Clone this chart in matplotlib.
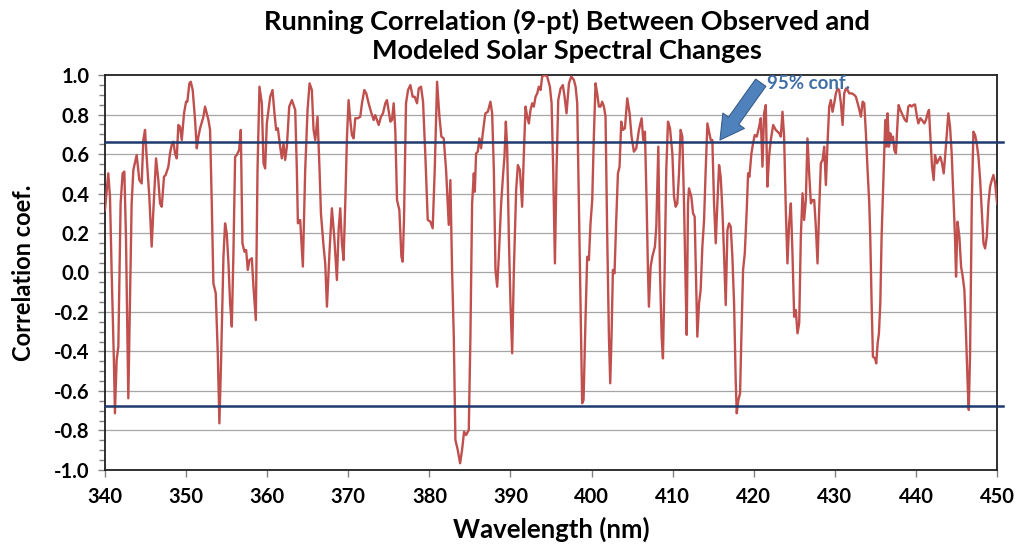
import matplotlib
matplotlib.use('Agg')
import matplotlib.pyplot as plt
from matplotlib.ticker import MultipleLocator
import numpy as np

# wavelength (nm) and 9-pt running correlation
wavelength = [
    340.00, 340.41, 340.62, 340.82, 341.11, 341.23, 341.44, 341.65, 341.93, 342.18,
    342.39, 342.59, 342.88, 343.29, 343.50, 343.91, 344.24, 344.53, 344.73, 344.94,
    345.14, 345.47, 345.76, 345.97, 346.30, 346.58, 346.79, 347.00, 347.28, 347.49,
    347.82, 348.02, 348.23, 348.44, 348.64, 348.85, 349.05, 349.26, 349.47, 349.75,
    350.00, 350.16, 350.41, 350.58, 350.82, 351.11, 351.32, 351.52, 351.73,
    352.14, 352.34, 352.76, 352.96, 353.17, 353.37, 353.66, 353.91, 354.11, 354.32,
    354.61, 354.81, 355.02, 355.23, 355.43, 355.64, 355.84, 356.05, 356.25, 356.54,
    356.75, 356.95, 357.20, 357.41, 357.61, 357.82, 358.11, 358.31, 358.60, 358.81,
    359.05, 359.34, 359.55, 359.75, 359.96, 360.37, 360.66, 360.90, 361.11, 361.32,
    361.60, 361.81, 362.02, 362.22, 362.43, 362.72, 363.05,
    363.46, 363.66, 363.79, 364.07, 364.40, 364.69, 364.98, 365.23, 365.51, 365.72,
    365.93, 366.21, 366.46, 366.63, 366.96, 367.16, 367.37, 367.70, 367.98, 368.27,
    368.60, 368.81, 369.01, 369.22, 369.42, 369.63, 369.84, 370.04, 370.25, 370.45,
    370.66, 370.86, 371.19, 371.48, 371.69, 371.98, 372.22, 372.51, 372.80, 373.13,
    373.33, 373.54, 373.75, 374.03, 374.28, 374.57, 374.77,
    375.19, 375.39, 375.60, 375.80, 376.01, 376.30, 376.55, 376.71, 376.87, 377.12,
    377.37, 377.66, 377.94, 378.19, 378.48, 378.69, 378.97, 379.22, 379.51, 379.80,
    380.13, 380.41, 380.66, 380.95, 381.24, 381.48, 381.77, 382.06, 382.39, 382.59,
    382.80, 383.01, 383.21, 383.50, 383.79, 384.03, 384.28, 384.53, 384.86, 385.06,
    385.27, 385.48, 385.60, 385.76, 385.97, 386.17, 386.38, 386.59, 386.79, 386.91,
    387.21, 387.53, 387.74, 387.95, 388.15, 388.36, 388.56, 388.85, 389.10, 389.26,
    389.43, 389.59, 389.80, 390.00, 390.21, 390.42, 390.70, 390.91, 391.16, 391.44,
    391.65, 391.86, 392.06, 392.27, 392.47, 392.68, 392.88, 393.09, 393.30, 393.50,
    393.71, 393.91, 394.24, 394.53, 394.86, 395.07, 395.27, 395.48, 395.68, 395.89,
    396.18, 396.46, 396.67, 396.91, 397.21, 397.49, 397.82, 398.03, 398.23,
    398.64, 398.84, 399.01, 399.25, 399.46, 399.67, 399.87, 400.08, 400.28, 400.49,
    400.69, 400.90, 401.11, 401.31, 401.52, 401.72, 401.93, 402.14, 402.30, 402.46,
    402.63, 402.83, 403.04, 403.25, 403.45, 403.66, 403.86, 404.11, 404.40, 404.69,
    404.93, 405.22, 405.51, 405.84, 406.17, 406.37, 406.58, 406.79, 406.95, 407.07,
    407.28, 407.49, 407.81, 407.98, 408.23, 408.43, 408.64, 408.80, 409.01, 409.21,
    409.42, 409.67,
    409.96, 410.16, 410.37, 410.57, 410.78, 410.98, 411.19, 411.40, 411.60, 411.73,
    411.89, 412.01, 412.30, 412.51, 412.71, 412.88, 413.04, 413.25, 413.45, 413.66,
    413.87, 414.07, 414.28, 414.52, 414.69, 414.89, 415.10, 415.31, 415.51, 415.72,
    415.92, 416.13, 416.33, 416.54, 416.75, 416.95, 417.16, 417.36, 417.57, 417.77,
    417.90, 418.10, 418.31, 418.47, 418.68, 418.89, 419.13, 419.30, 419.46, 419.71,
    419.91, 420.12, 420.37, 420.66, 420.86, 421.07, 421.27, 421.48, 421.68, 421.89,
    422.10,
    422.39, 422.71, 423.13, 423.33, 423.54, 423.74, 423.95, 424.15, 424.36, 424.57,
    424.77, 424.98, 425.18, 425.39, 425.60, 425.80, 426.01, 426.21, 426.42, 426.62,
    426.83, 427.04, 427.24, 427.45, 427.65, 427.86, 428.06, 428.27, 428.48, 428.68,
    428.89, 429.09, 429.30, 429.50, 429.71, 429.92, 430.12, 430.33, 430.53, 430.74,
    430.95, 431.15, 431.36, 431.56, 431.77, 432.10, 432.39, 432.59, 432.92, 433.21,
    433.42, 433.62,
    433.83, 434.03, 434.24, 434.36, 434.53, 434.69, 434.94, 435.10, 435.27, 435.43,
    435.60, 435.76, 436.01, 436.21, 436.38, 436.50, 436.67, 436.83, 437.00, 437.16,
    437.33, 437.53, 437.74, 437.86, 438.07, 438.35, 438.64, 438.85, 439.05, 439.26,
    439.47, 439.67, 439.88, 440.12, 440.29, 440.54, 440.74, 441.03, 441.23, 441.44,
    441.60, 441.77, 441.98, 442.18, 442.35, 442.59, 442.80, 443.00, 443.21, 443.42,
    443.62, 443.83, 443.99, 444.20, 444.40, 444.61, 444.81, 444.94, 445.12,
    445.35, 445.56, 445.76, 445.97, 446.18, 446.38, 446.51, 446.67, 446.88, 447.08,
    447.29, 447.49, 447.70, 447.91, 448.11, 448.32, 448.52, 448.73, 448.93, 449.14,
    449.35, 449.55, 449.76, 450.00,
]
correlation = [
    0.316, 0.502, 0.384, 0.013, -0.460, -0.713, -0.443, -0.376, 0.350, 0.502,
    0.511, 0.181, -0.637, 0.350, 0.519, 0.595, 0.468, 0.451, 0.671, 0.722,
    0.586, 0.384, 0.131, 0.316, 0.578, 0.468, 0.350, 0.333, 0.485, 0.494,
    0.536, 0.603, 0.646, 0.662, 0.603, 0.578, 0.747, 0.738, 0.671, 0.806,
    0.865, 0.865, 0.958, 0.966, 0.924, 0.772, 0.629, 0.688, 0.730,
    0.789, 0.840, 0.772, 0.722, 0.350, -0.055, -0.105, -0.409, -0.764, -0.443,
    0.080, 0.249, 0.198, 0.046, -0.156, -0.274, 0.097, 0.586, 0.595, 0.620,
    0.722, 0.148, 0.105, 0.114, 0.013, 0.063, 0.072, -0.072, -0.241, 0.519,
    0.941, 0.857, 0.553, 0.527, 0.755, 0.890, 0.924, 0.806, 0.722, 0.730,
    0.637, 0.578, 0.654, 0.570, 0.637, 0.840, 0.873,
    0.823, 0.519, 0.249, 0.266, 0.030, 0.519, 0.823, 0.958, 0.924, 0.722,
    0.671, 0.789, 0.519, 0.300, 0.131, 0.046, -0.173, 0.114, 0.325, 0.181,
    -0.038, 0.215, 0.325, 0.148, 0.063, 0.350, 0.688, 0.873, 0.772, 0.696,
    0.679, 0.781, 0.781, 0.789, 0.857, 0.924, 0.907, 0.857, 0.814, 0.772,
    0.797, 0.772, 0.747, 0.789, 0.806, 0.857, 0.873,
    0.764, 0.772, 0.857, 0.722, 0.367, 0.316, 0.080, 0.055, 0.266, 0.857,
    0.924, 0.949, 0.890, 0.890, 0.857, 0.932, 0.941, 0.865, 0.586, 0.266,
    0.257, 0.224, 0.519, 0.966, 0.789, 0.688, 0.679, 0.519, 0.241, 0.468,
    0.013, -0.325, -0.848, -0.899, -0.966, -0.899, -0.806, -0.823, -0.797, -0.325,
    0.350, 0.502, 0.409, 0.603, 0.612, 0.679, 0.629, 0.705, 0.772, 0.806,
    0.814, 0.865, 0.806, 0.519, 0.013, -0.072, 0.080, 0.350, 0.502, 0.586,
    0.764, 0.637, 0.181, -0.156, -0.409, 0.013, 0.418, 0.544, 0.519, 0.333,
    0.603, 0.840, 0.789, 0.755, 0.823, 0.857, 0.840, 0.890, 0.907, 0.941,
    0.924, 0.992, 1.000, 0.992, 0.941, 0.857, 0.519, 0.046, 0.519, 0.873,
    0.932, 0.949, 0.890, 0.806, 0.958, 0.992, 0.975, 0.941, 0.857,
    -0.156, -0.662, -0.646, -0.241, 0.080, 0.063, 0.249, 0.367, 0.688, 0.958,
    0.907, 0.840, 0.840, 0.865, 0.840, 0.789, 0.181, -0.325, -0.561, -0.325,
    0.013, -0.004, 0.266, 0.502, 0.536, 0.764, 0.722, 0.730, 0.882, 0.806,
    0.688, 0.612, 0.629, 0.722, 0.781, 0.671, 0.713, 0.350, 0.013, -0.173,
    0.030, 0.080, 0.131, 0.232, 0.637, 0.013, -0.325, -0.435, 0.013, 0.519,
    0.764, 0.730,
    0.603, 0.384, 0.333, 0.350, 0.502, 0.722, 0.688, 0.350, -0.072, -0.316,
    0.350, 0.426, 0.384, 0.300, 0.283, -0.021, -0.325, -0.156, -0.089, 0.131,
    0.266, 0.519, 0.755, 0.705, 0.671, 0.671, 0.350, 0.148, 0.350, 0.544,
    0.485, 0.316, 0.097, -0.165, 0.215, 0.249, 0.232, 0.080, -0.156, -0.544,
    -0.713, -0.646, -0.612, -0.325, 0.013, 0.097, 0.316, 0.502, 0.485, 0.603,
    0.654, 0.696, 0.688, 0.738, 0.781, 0.536, 0.806, 0.848, 0.435, 0.590,
    0.671,
    0.747, 0.722, 0.705, 0.688, 0.814, 0.688, 0.316, 0.046, 0.249, 0.350,
    0.097, -0.224, -0.190, -0.308, -0.257, 0.181, 0.401, 0.266, 0.367, 0.679,
    0.502, 0.350, 0.367, 0.367, 0.232, 0.046, 0.316, 0.553, 0.570, 0.637,
    0.443, 0.654, 0.840, 0.873, 0.814, 0.857, 0.907, 0.932, 0.924, 0.857,
    0.747, 0.907, 0.932, 0.924, 0.907, 0.907, 0.899, 0.890, 0.840, 0.789,
    0.865, 0.857,
    0.700, 0.519, 0.350, 0.181, -0.156, -0.426, -0.435, -0.460, -0.359, -0.308,
    -0.156, 0.181, 0.519, 0.772, 0.637, 0.806, 0.637, 0.705, 0.671, 0.688,
    0.620, 0.603, 0.772, 0.848, 0.823, 0.797, 0.772, 0.764, 0.840, 0.848,
    0.840, 0.848, 0.851, 0.789, 0.755, 0.781, 0.772, 0.755, 0.772, 0.806,
    0.823, 0.688, 0.536, 0.468, 0.595, 0.553, 0.570, 0.586, 0.553, 0.502,
    0.603, 0.722, 0.806, 0.738, 0.603, 0.384, 0.181, -0.021, 0.257,
    0.181, 0.030, -0.021, -0.089, -0.325, -0.578, -0.696, -0.409, 0.350, 0.713,
    0.696, 0.654, 0.586, 0.468, 0.316, 0.148, 0.122, 0.181, 0.350, 0.435,
    0.468, 0.494, 0.451, 0.350,
]

conf_upper = 0.663     # 95% confidence level for a 9-pt correlation
conf_lower = -0.677
x_ticks = np.arange(340, 451, 10)
y_ticks = np.round(np.arange(-1.0, 1.01, 0.2), 1)

FONT = 'Lato'

fig = plt.figure(figsize=(10.19, 5.52), dpi=100)
ax = fig.add_axes([0.1030, 0.1486, 0.8755, 0.7155])

for yv in y_ticks[1:-1]:
    ax.axhline(yv, color='#a6a6a6', lw=0.9, zorder=1)

ax.plot(wavelength, correlation, color='#c0504d', lw=1.7, zorder=3)

# confidence lines run slightly past the right edge, like in the original
ax.plot([340, 450.75], [conf_upper, conf_upper], color='#1f3a6e', lw=1.8,
        zorder=4, clip_on=False)
ax.plot([340, 450.75], [conf_lower, conf_lower], color='#1f3a6e', lw=1.8,
        zorder=4, clip_on=False)

ax.annotate('', xy=(415.83, 0.671), xytext=(420.86, 0.961),
            arrowprops=dict(arrowstyle='simple,head_length=1.7,head_width=1.9,tail_width=0.9',
                            fc='#4f81bd', ec='#385d8a', lw=0.8, mutation_scale=10,
                            shrinkA=0, shrinkB=0), zorder=5)
ax.text(421.6, 0.955, '95% conf.', color='#3f6ea6', fontsize=13.5,
        fontweight='bold', family=FONT, va='center', ha='left', zorder=5)

ax.set_xlim(340, 450)
ax.set_ylim(-1.0, 1.0)
ax.set_xticks(x_ticks)
ax.set_yticks(y_ticks)
ax.yaxis.set_minor_locator(MultipleLocator(0.05))
ax.set_xticklabels([f'{int(v)}' for v in x_ticks], fontsize=14.5,
                   fontweight='bold', family=FONT)
ax.set_yticklabels([f'{v + 0.0:.1f}' for v in y_ticks], fontsize=14.5,
                   fontweight='bold', family=FONT)
ax.tick_params(axis='both', direction='out', length=5, width=1, color='#808080')
ax.tick_params(axis='y', which='minor', direction='out', length=4, width=1,
               color='#808080')
ax.tick_params(axis='x', pad=7)
ax.tick_params(axis='y', pad=6)

for sp in ax.spines.values():
    sp.set_color('#202020')
    sp.set_linewidth(1.3)

ax.set_xlabel('Wavelength (nm)', fontsize=18.5, fontweight='bold', family=FONT,
              labelpad=7)
ax.set_ylabel('Correlation coef.', fontsize=17, fontweight='bold', family=FONT,
              labelpad=14)
fig.text(0.556, 0.962, 'Running Correlation (9-pt) Between Observed and',
         ha='center', va='center', fontsize=19.5, fontweight='bold', family=FONT)
fig.text(0.556, 0.907, 'Modeled Solar Spectral Changes',
         ha='center', va='center', fontsize=19.5, fontweight='bold', family=FONT)

fig.savefig('out.png', dpi=100)
